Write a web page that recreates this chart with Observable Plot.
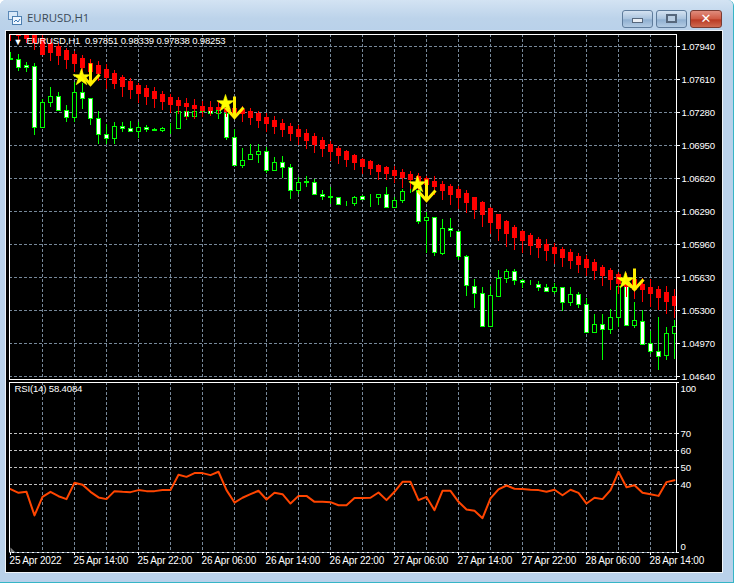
<!DOCTYPE html>
<html>
<head>
<meta charset="utf-8">
<script src="https://cdn.jsdelivr.net/npm/d3@7"></script>
<script src="https://cdn.jsdelivr.net/npm/@observablehq/plot@0.6"></script>
<style>
html,body{margin:0;padding:0;background:#fff;overflow:hidden}
#win{position:absolute;left:0;top:0;width:733px;height:582px;background:#b9d1ea;border-right:1px solid #36b5c6;border-bottom:1px solid #36b5c6;border-radius:6px 6px 0 0;overflow:hidden}
#bar{position:absolute;left:0;top:0;width:100%;height:31px;background:linear-gradient(#d3e3f3,#bcd3ea 60%,#b9d1ea)}
#ttl{position:absolute;left:27px;top:10px;font:11.4px/16px "Open Sans",sans-serif;color:#3b4a58}
#ico{position:absolute;left:8px;top:11px;width:14px;height:14px}
.btn{position:absolute;top:10px;height:16px;border:1px solid #5f7c9c;border-radius:3px;background:linear-gradient(#d4e2f1,#a9c3de 50%,#8fafd0 55%,#b3cbe3)}
.btn i{position:absolute;display:block;background:#e9eef4;border:1px solid #56677c}
#cls{background:linear-gradient(#e08c7d,#cf5a44 50%,#b93a24 55%,#cf6a52);border-color:#7a3b32;color:#fff;font:bold 13px/15px "DejaVu Sans",sans-serif;text-align:center}
#pane{position:absolute;left:6px;top:31px;width:716px;height:541px;background:#000;box-shadow:0 0 0 1px #eef3f8}
#main,#rsi{position:absolute;left:0;width:734px}
#main{top:33px}
#rsi{top:381px}
</style>
</head>
<body>
<div id="win">
  <div id="bar"></div>
  <svg id="ico" viewBox="0 0 14 14"><rect x="0.5" y="0.5" width="9" height="8" fill="#d8e8f8" stroke="#5b89b8"/><rect x="4.5" y="5.5" width="9" height="8" fill="#eef6ff" stroke="#4d7fb0"/><path d="M6 11l2-2 2 2 2-3" fill="none" stroke="#3d78b4"/></svg>
  <div id="ttl">EURUSD,H1</div>
  <div class="btn" style="left:622px;width:29px"><i style="left:9px;top:7px;width:9px;height:3px"></i></div>
  <div class="btn" style="left:656px;width:29px"><i style="left:9px;top:3px;width:7px;height:5px;background:#b9cde2;border-width:2px"></i></div>
  <div class="btn" id="cls" style="left:690px;width:30px">&#x2715;</div>
  <div id="pane"></div>
  <div id="main"></div>
  <div id="rsi"></div>
</div>
<script>
const POINT = 1e-5;
const greenOpen = [107822,107812,107752,107742,107128,107382,107442,107302,107232,107482,107422,107222,107062,107022,107142,107122,107092,107132,107105,107102,107122,107118,107292,107242,107292,107312,107268,107272,107032,106748,106808,106862,106892,106698,106782,106732,106502,106585,106582,106462,106438,106432,106362,106368,106442,106428,106432,106462,106328,106402,106502,106502,106202,106232,105868,106122,106092,105842,105538,105468,105138,105438,105622,105692,105602,105578,105558,105532,105492,105532,105378,105462,105362,105078,105162,105112,105232,105542,105148,105192,104972,104892,104848,105072];
const greenClose = [107805,107728,107728,107132,107382,107442,107302,107232,107482,107422,107222,107062,107022,107142,107122,107092,107132,107112,107098,107122,107115,107292,107242,107292,107315,107272,107302,107032,106748,106802,106862,106892,106702,106782,106732,106502,106582,106575,106462,106438,106432,106362,106358,106432,106408,106425,106462,106332,106402,106492,106495,106192,106232,105878,106122,106098,105838,105548,105468,105138,105452,105622,105692,105598,105582,105575,105532,105492,105532,105382,105462,105362,105078,105162,105112,105232,105542,105148,105202,104962,104892,104842,105072,105142];
const greenHigh = [107882,107855,107782,107775,107405,107532,107482,107352,107582,107572,107422,107285,107165,107182,107182,107188,107182,107148,107115,107132,107172,107292,107305,107305,107345,107332,107332,107355,107105,106915,106962,106962,106932,106832,106842,106765,106632,106642,106612,106502,106532,106432,106388,106442,106452,106462,106462,106532,106432,106505,106565,106585,106275,106232,106205,106222,106092,105852,105605,105535,105542,105702,105712,105712,105612,105602,105592,105562,105572,105532,105528,105478,105422,105255,105255,105305,105645,105605,105382,105295,105092,105232,105132,105195];
const greenLow = [107795,107688,107678,107048,107128,107328,107302,107178,107178,107305,107148,106958,106965,106958,107078,107092,107022,107078,107085,107078,107062,107112,107198,107232,107272,107272,107212,106998,106748,106715,106795,106775,106672,106688,106622,106405,106455,106532,106448,106398,106362,106348,106338,106338,106405,106328,106348,106332,106322,106368,106465,106158,105865,105838,105848,106028,105795,105438,105318,105138,105138,105438,105568,105548,105518,105548,105488,105478,105462,105288,105338,105318,105078,105078,104798,105055,105132,105138,105122,104962,104855,104695,104802,104805];
const redTop = [108125,108105,108085,108065,108015,107975,107935,107895,107855,107815,107775,107745,107705,107665,107625,107585,107545,107515,107485,107455,107425,107395,107375,107355,107342,107332,107332,107322,107315,107312,107292,107265,107232,107202,107172,107142,107112,107072,107042,107002,106962,106922,106892,106852,106812,106785,106755,106725,106695,106675,106655,106635,106615,106592,106565,106535,106505,106465,106428,106375,106315,106255,106185,106135,106085,106045,106005,105965,105935,105905,105875,105835,105805,105775,105735,105695,105655,105632,105605,105565,105535,105505,105475,105435];
const redBottom = [108075,108045,108022,107982,107855,107882,107848,107812,107772,107728,107688,107672,107628,107575,107535,107505,107465,107435,107415,107388,107365,107348,107335,107322,107302,107302,107308,107285,107275,107265,107228,107198,107168,107138,107108,107065,107035,106995,106958,106918,106885,106852,106808,106778,106735,106715,106685,106665,106645,106625,106605,106585,106565,106535,106495,106455,106425,106375,106312,106255,106175,106115,106065,106025,105995,105955,105925,105895,105865,105825,105795,105765,105735,105695,105645,105605,105572,105538,105512,105505,105465,105425,105385,105355];
const redHigh = [108145,108135,108125,108095,108055,108012,107972,107915,107888,107845,107805,107788,107755,107695,107652,107615,107572,107545,107525,107485,107455,107432,107418,107405,107385,107388,107388,107355,107350,107338,107322,107292,107272,107238,107205,107172,107145,107105,107065,107032,106985,106938,106895,106855,106822,106795,106765,106745,106738,106705,106685,106665,106638,106638,106590,106565,106535,106498,106432,106388,106325,106255,106202,106155,106095,106072,106032,106005,105970,105933,105905,105865,105845,105805,105755,105715,105675,105665,105632,105622,105605,105545,105545,105505];
const redLow = [107988,107972,107972,107898,107848,107792,107745,107705,107678,107638,107595,107588,107505,107505,107428,107405,107372,107352,107315,107295,107272,107255,107212,107205,107232,107238,107255,107232,107205,107178,107148,107118,107082,107055,107028,106985,106948,106908,106865,106832,106788,106758,106728,106695,106662,106645,106595,106595,106572,106522,106505,106472,106445,106448,106395,106355,106310,106265,106205,106125,106055,105985,105932,105895,105865,105845,105815,105785,105762,105732,105705,105672,105638,105595,105545,105495,105455,105425,105405,105378,105335,105295,105255,105215];
const rsiValues = [37.3,35.1,35.7,21.8,32.7,35.7,33.1,31.4,41.0,39.8,35.7,32.4,31.4,36.1,35.7,35.5,36.7,36.1,36.1,36.7,36.7,45.7,44.5,46.7,46.7,45.5,47.5,36.7,29.4,32.2,34.3,36.3,31.2,35.1,34.3,28.8,33.3,33.3,29.8,29.8,29.6,27.8,27.8,32.0,32.0,32.2,35.3,30.8,35.7,41.6,41.6,30.8,32.7,24.9,36.3,36.3,29.8,25.3,24.5,20.2,31.8,37.1,39.4,37.5,37.3,36.9,36.7,35.7,36.9,33.7,36.9,35.1,28.8,32.2,31.4,36.7,47.5,38.4,39.6,35.1,34.3,33.3,41.4,42.5];
const priceTicks = [1.07940,1.07610,1.07280,1.06950,1.06620,1.06290,1.05960,1.05630,1.05300,1.04970,1.04640];
const rsiLevels = [70,60,50,40];
const gridBars = [4,8,12,16,20,24,28,32,36,40,44,48,52,56,60,64,68,72,76,80];
const timeBars = [0,8,16,24,32,40,48,56,64,72,80];
const timeLabels = ["25 Apr 2022","25 Apr 14:00","25 Apr 22:00","26 Apr 06:00","26 Apr 14:00","26 Apr 22:00","27 Apr 06:00","27 Apr 14:00","27 Apr 22:00","28 Apr 06:00","28 Apr 14:00"];
const starBars = [9,27,51,77];
const starPrices = [1.07630,1.07375,1.06565,1.05598];
const arrowBars = [10,28,52,78];
const arrowPrices = [1.07565,1.07235,1.06405,1.05505];
const headerText = "EURUSD,H1\u00A0\u00A00.97851 0.98339 0.97838 0.98253";
const rsiText = "RSI(14) 58.4084";

const FONT = '"Liberation Sans",sans-serif';
const style = {background:"transparent",color:"#fff",fontFamily:FONT,fontSize:"10px",letterSpacing:"-0.18px",overflow:"visible",maxWidth:"none"};
const xDomain = [-0.125,83.25];
const SLATE = "#778899";

const green = greenOpen.map((o,i)=>({i,o:o*POINT,c:greenClose[i]*POINT,h:greenHigh[i]*POINT,l:greenLow[i]*POINT,fill:greenClose[i]<o?"#fff":"#000"}));
const red = redTop.map((t,i)=>({i,t:t*POINT,b:redBottom[i]*POINT,h:redHigh[i]*POINT,l:redLow[i]*POINT}));
const stars = starBars.map((i,k)=>({i,p:starPrices[k]}));
const arrows = arrowBars.map((i,k)=>({i,p:arrowPrices[k]}));
const rsiRows = rsiValues.map((v,i)=>({i,v}));
const times = timeBars.map((i,k)=>({i,label:timeLabels[k]}));

const arrowSymbol = {draw(ctx){ctx.moveTo(0,-21);ctx.lineTo(0,0);ctx.moveTo(-9,-10);ctx.lineTo(0,0);ctx.lineTo(9,-10);}};
const cornerSymbol = {draw(ctx){ctx.moveTo(0,0);ctx.lineTo(5,0);ctx.lineTo(0,-5);ctx.closePath();}};

document.getElementById("main").appendChild(Plot.plot({
  width:734,height:347,marginLeft:9,marginRight:58,marginTop:1,marginBottom:1,style,
  x:{domain:xDomain,axis:null},
  y:{domain:[1.0461,1.0806],round:true,axis:null},
  color:{type:"identity"},
  marks:[
    Plot.ruleY(priceTicks,{stroke:SLATE,strokeDasharray:"3,2"}),
    Plot.ruleX(gridBars,{stroke:SLATE,strokeDasharray:"3,2"}),
    Plot.ruleX(green,{x:"i",y1:"l",y2:"h",stroke:"#00ff00",clip:true}),
    Plot.rect(green,{x1:d=>d.i-0.25,x2:d=>d.i+0.25,y1:"o",y2:"c",fill:"fill",stroke:"#00ff00",dx:0.5,dy:0.5,clip:true}),
    Plot.ruleX(red,{x:"i",y1:"l",y2:"h",stroke:"#ff0000",clip:true}),
    Plot.rect(red,{x1:d=>d.i-0.25,x2:d=>d.i+0.25,y1:"t",y2:"b",fill:"#ff0000",stroke:"#ff0000",dx:0.5,dy:0.5,clip:true}),
    Plot.dot(stars,{x:"i",y:"p",symbol:"star",r:5.4,fill:"#ffff00",stroke:"#ffff00",strokeWidth:0.6,dx:-1}),
    Plot.dot(arrows,{x:"i",y:"p",symbol:arrowSymbol,r:5,stroke:"#ffee00",strokeWidth:3,fill:"none"}),
    Plot.frame({stroke:"#fff"}),
    Plot.axisY({anchor:"right",ticks:priceTicks,tickFormat:d=>d.toFixed(5),tickSize:3,tickPadding:2,stroke:"#fff",fill:"#fff",label:null,fontSize:9.6}),
    Plot.text([headerText],{text:d=>d,frameAnchor:"top-left",textAnchor:"start",lineAnchor:"top",dx:17,dy:3,fill:"#fff",fontSize:9.55}),
    Plot.text(["\u25BC"],{text:d=>d,frameAnchor:"top-left",textAnchor:"start",lineAnchor:"top",dx:4,dy:4,fill:"#fff",fontSize:9})
  ]
}));

document.getElementById("rsi").appendChild(Plot.plot({
  width:734,height:192,marginLeft:9,marginRight:58,marginTop:1,marginBottom:21,style,
  x:{domain:xDomain,axis:null},
  y:{domain:[0,100],axis:null},
  marks:[
    Plot.ruleX(gridBars,{stroke:SLATE,strokeDasharray:"3,2"}),
    Plot.ruleY(rsiLevels,{stroke:"#c0c0c0",strokeDasharray:"3,2"}),
    Plot.line(rsiRows,{x:"i",y:"v",stroke:"#ff4500",strokeWidth:2}),
    Plot.dot([0],{x:d=>d,y:d=>d,symbol:cornerSymbol,r:3,fill:"#808080"}),
    Plot.frame({stroke:"#fff"}),
    Plot.ruleY([0],{stroke:SLATE,strokeDasharray:"3,2"}),
    Plot.axisY({anchor:"right",ticks:rsiLevels,tickFormat:d=>String(d),tickSize:2,tickPadding:2,stroke:"#fff",fill:"#fff",label:null,fontSize:9.6}),
    Plot.axisY({anchor:"right",ticks:[100,0],tickFormat:()=>"",tickSize:2,stroke:"#fff",label:null}),
    Plot.text([100],{y:d=>d,text:d=>String(d),frameAnchor:"right",textAnchor:"start",dx:4,dy:6,fill:"#fff",fontSize:9.6}),
    Plot.text([0],{y:d=>d,text:d=>String(d),frameAnchor:"right",textAnchor:"start",dx:4,dy:-6,fill:"#fff",fontSize:9.6}),
    Plot.axisX({anchor:"bottom",ticks:timeBars,tickFormat:()=>"",tickSize:3,stroke:"#fff",label:null}),
    Plot.text(times,{x:"i",text:"label",frameAnchor:"bottom",textAnchor:"start",lineAnchor:"top",dx:-1,dy:4,fill:"#fff"}),
    Plot.text([rsiText],{text:d=>d,frameAnchor:"top-left",textAnchor:"start",lineAnchor:"top",dx:5,dy:3,fill:"#fff",fontSize:9.6})
  ]
}));
</script>
</body>
</html>
